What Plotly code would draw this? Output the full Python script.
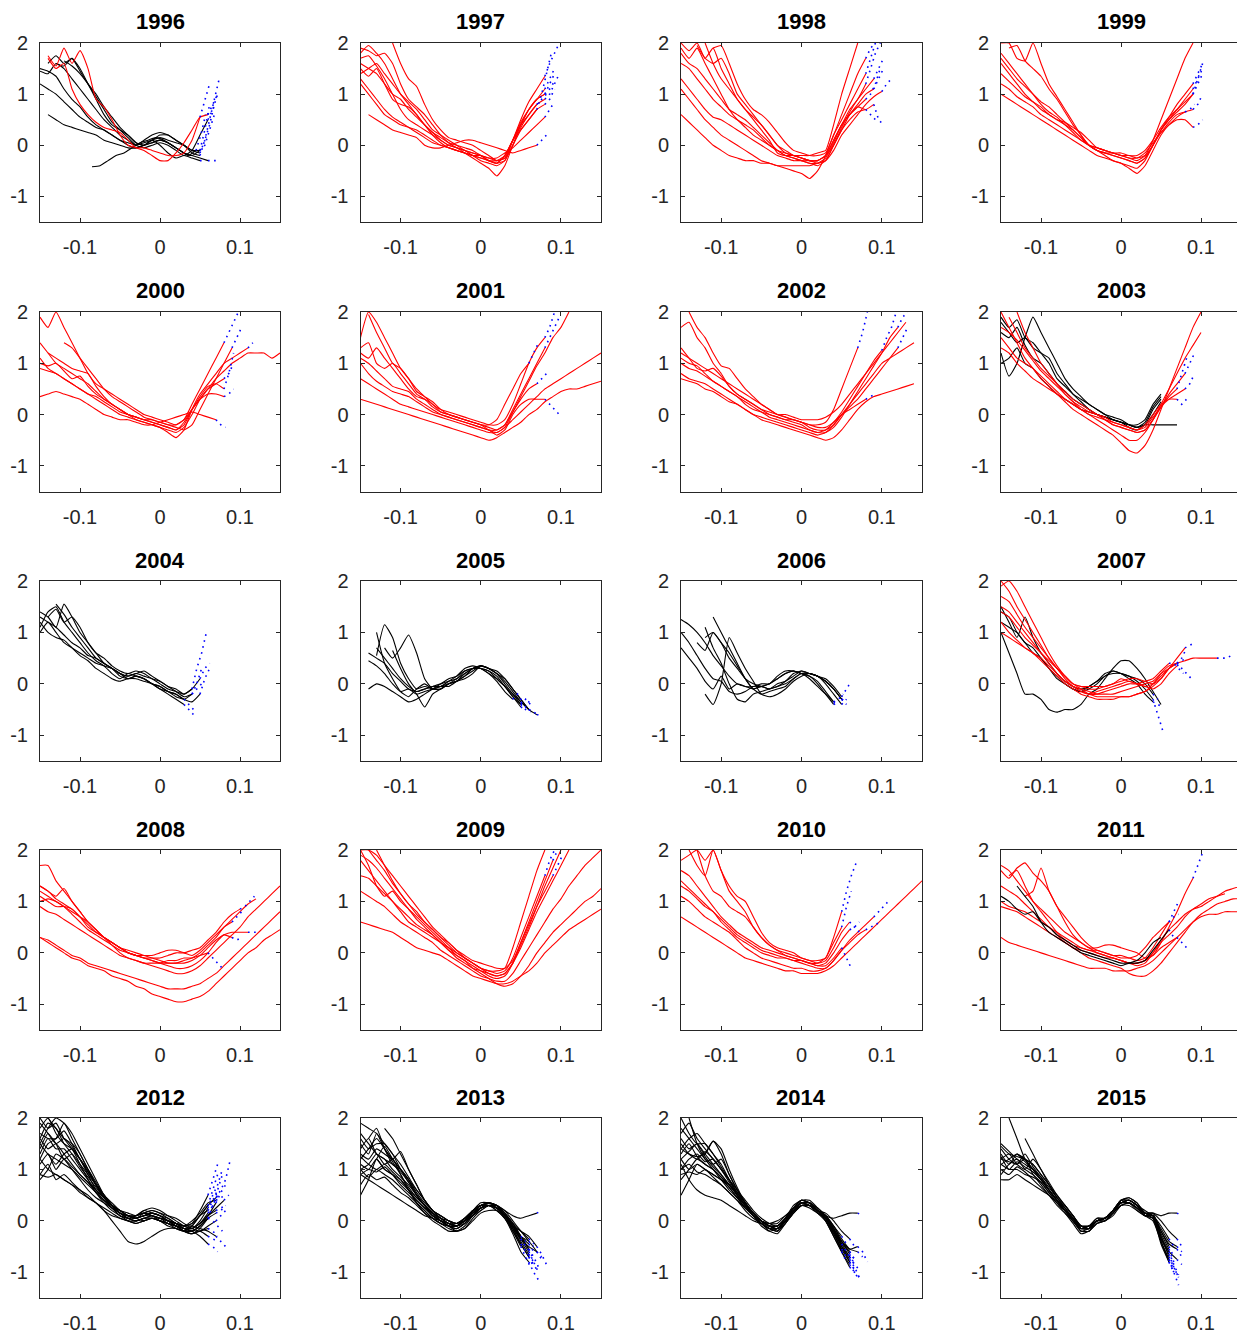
import plotly.graph_objects as go

# ---------------- data ----------------
YEARS = [1996, 1997, 1998, 1999, 2000, 2001, 2002, 2003, 2004, 2005,
         2006, 2007, 2008, 2009, 2010, 2011, 2012, 2013, 2014, 2015]
X_TICKS = [-0.1, 0, 0.1]
X_TICK_TEXT = ["-0.1", "0", "0.1"]
Y_TICKS = [-1, 0, 1, 2]
Y_TICK_TEXT = ["-1", "0", "1", "2"]
STEP = 0.01        # spacing of the solid-curve samples
EXT_STEP = 0.006   # spacing of the dotted extension samples

# each curve: (group, x start, solid y samples, dotted extension y samples)
C1996 = [
    ("k", -0.15, [1.5,1.45,1.35,1.1,0.9,0.75,0.55,0.4,0.3,0.2,0.1,0.05,0.0,0.05,0.1,0.15,0.1,0.05,0.0,-0.1,-0.15], [0.1,0.5,0.9,1.3]),
    ("k", -0.15, [1.45,1.4,1.6,1.5,1.3,1.1,0.9,0.7,0.5,0.35,0.2,0.1,0.0,0.1,0.2,0.25,0.2,0.1,0.0,-0.15,-0.2], [0.1,0.4,0.8]),
    ("k", -0.14, [1.6,1.75,1.6,1.7,1.45,1.2,0.95,0.7,0.45,0.3,0.15,0.0,-0.05,0.0,0.05,0.0,-0.1,-0.2,-0.1,0.2,0.5], [0.7,1.0]),
    ("k", -0.14, [0.6,0.5,0.4,0.35,0.3,0.25,0.2,0.1,0.05,0.0,-0.05,-0.05,0.0,0.05,0.1,0.05,-0.05,-0.15,-0.2,-0.25,-0.3], [-0.3,-0.3]),
    ("k", -0.085, [-0.42,-0.4,-0.3,-0.2,-0.15,-0.05,0.05,0.1,0.15,0.1,0.0,-0.1,-0.2,-0.1], [0.2,0.6]),
    ("k", -0.13, [1.6,1.55,1.7,1.5,1.2,0.9,0.6,0.4,0.3,0.2,0.05,0.0,0.1,0.2,0.2,0.1,0.0,-0.1,-0.1], [0.0,0.3,0.6]),
    ("k", -0.15, [1.2,1.1,1.0,0.85,0.7,0.55,0.45,0.35,0.3,0.2,0.1,0.0,-0.05,0.0,0.1,0.0,-0.15,-0.25,-0.2,-0.25,-0.3], [-0.3]),
    ("k", -0.12, [1.65,1.55,1.4,1.2,1.0,0.75,0.55,0.35,0.2,0.05,0.0,0.05,0.1,0.05,-0.05,-0.15,-0.2,-0.1], [0.3,0.8]),
    ("r", -0.14, [1.75,1.55,1.9,1.6,1.85,1.5,0.9,0.75,0.5,0.2,0.0,-0.05,-0.1,-0.2,-0.3,-0.3,-0.15,0.05,0.3,0.55,0.6], [0.8,1.0]),
    ("r", -0.14, [1.7,1.5,1.6,1.1,0.8,0.6,0.45,0.35,0.3,0.25,0.1,-0.05,-0.05,-0.1,-0.15,-0.2,-0.2,-0.15,0.1,0.55], [0.9,1.2]),
]
C1997 = [
    ("r", -0.15, [1.8,1.95,1.8,1.6,1.3,1.0,0.8,0.6,0.4,0.2,0.05,-0.05,-0.1,-0.15,-0.2,-0.25,-0.3,-0.35,-0.3,0.1,0.5,0.85,1.1,1.35], [1.6,1.8,2.0]),
    ("r", -0.15, [1.4,1.5,1.6,1.4,1.2,1.0,0.85,0.7,0.5,0.3,0.2,0.1,0.0,-0.1,-0.2,-0.3,-0.35,-0.4,-0.3,0.0,0.35,0.6,0.8,0.9], [1.0,1.2,1.4]),
    ("r", -0.15, [1.2,1.0,0.8,0.6,0.5,0.4,0.35,0.3,0.2,0.1,0.0,-0.05,-0.1,-0.15,-0.2,-0.25,-0.3,-0.35,-0.2,0.1,0.3,0.5,0.7,0.8], [0.9,1.1]),
    ("r", -0.14, [0.6,0.5,0.4,0.3,0.25,0.2,0.15,0.0,-0.05,-0.05,0.0,0.05,0.1,0.1,0.05,0.0,-0.05,-0.1,-0.15,-0.1,-0.05,0.0], [0.1,0.2]),
    ("r", -0.11, [2.0,1.6,1.3,1.15,0.8,0.5,0.3,0.15,0.1,0.05,0.0,-0.1,-0.2,-0.3,-0.25,0.1,0.4,0.7,0.9,1.1], [1.3,1.5]),
    ("r", -0.15, [1.7,1.75,1.55,1.3,1.0,0.7,0.5,0.4,0.3,0.2,0.1,0.0,-0.05,-0.15,-0.25,-0.35,-0.45,-0.6,-0.4,0.0,0.4,0.7,0.9,1.0], [1.2,1.4]),
    ("r", -0.15, [1.6,1.5,1.4,1.2,1.0,0.9,0.7,0.55,0.4,0.25,0.1,0.0,-0.05,-0.1,-0.15,-0.2,-0.25,-0.3,-0.25,0.0,0.3,0.5,0.7], [1.0,1.4,1.8]),
    ("r", -0.15, [1.9,1.85,1.75,1.8,1.6,1.2,0.9,0.75,0.6,0.4,0.2,0.05,-0.05,-0.1,-0.15,-0.2,-0.3,-0.35,-0.2,0.1,0.45,0.7,0.9,1.0], [1.1,1.25]),
    ("r", -0.15, [1.3,1.1,0.9,0.7,0.55,0.45,0.35,0.25,0.15,0.05,0.0,-0.05,-0.1,-0.15,-0.2,-0.2,-0.25,-0.25,-0.15,-0.05,0.1,0.25,0.4,0.55], [0.7,0.85]),
    ("r", -0.15, [1.5,1.35,1.5,1.2,0.9,0.8,0.75,0.6,0.4,0.25,0.15,0.05,0.0,-0.05,-0.1,-0.2,-0.3,-0.3,-0.2,0.1,0.4,0.6,0.8], [0.9,1.0]),
]
C1998 = [
    ("r", -0.15, [2.0,1.85,2.0,1.7,1.9,1.5,1.2,0.9,0.7,0.5,0.3,0.1,-0.15,-0.2,-0.2,-0.2,-0.2,-0.15,-0.1,0.4,1.0,1.5,2.0], []),
    ("r", -0.15, [1.1,0.9,0.7,0.5,0.35,0.2,0.1,0.0,-0.1,-0.2,-0.3,-0.35,-0.4,-0.4,-0.4,-0.4,-0.4,-0.35,-0.3,-0.1,0.2,0.4,0.6,0.8,0.95,1.05], [1.2,1.3]),
    ("r", -0.15, [0.6,0.45,0.3,0.15,0.0,-0.1,-0.2,-0.25,-0.3,-0.3,-0.35,-0.35,-0.4,-0.45,-0.5,-0.55,-0.65,-0.5,-0.2,0.2,0.5,0.8,1.1,1.4], [1.7,2.0]),
    ("r", -0.15, [1.9,1.7,1.9,1.6,1.3,1.0,0.7,0.5,0.35,0.2,0.1,0.0,-0.1,-0.2,-0.25,-0.3,-0.3,-0.3,-0.2,0.1,0.4,0.7,0.9,1.2], [1.5,1.8,2.0]),
    ("r", -0.15, [1.6,1.5,1.3,1.1,0.9,0.75,0.6,0.5,0.4,0.3,0.15,0.0,-0.1,-0.15,-0.2,-0.25,-0.3,-0.3,-0.2,0.0,0.3,0.5,0.65,0.7], [0.6,0.5]),
    ("r", -0.13, [1.95,1.7,1.6,1.7,1.4,1.0,0.8,0.6,0.4,0.2,0.0,-0.15,-0.2,-0.25,-0.3,-0.35,-0.3,0.0,0.3,0.6,0.8,1.0,1.1], [1.3,1.5]),
    ("r", -0.12, [2.0,1.6,1.3,1.1,0.9,0.7,0.55,0.4,0.2,0.0,-0.1,-0.2,-0.25,-0.3,-0.3,-0.2,0.1,0.4,0.6,0.75,0.7,0.8], [0.5,0.4]),
    ("r", -0.15, [1.3,1.1,0.9,0.7,0.55,0.5,0.4,0.3,0.2,0.1,0.0,-0.1,-0.2,-0.25,-0.3,-0.3,-0.35,-0.35,-0.25,0.05,0.4,0.6,0.75,0.9], [1.0,1.2,1.5]),
    ("r", -0.15, [1.8,1.6,1.5,1.3,1.1,0.9,0.7,0.6,0.5,0.35,0.2,0.05,-0.1,-0.2,-0.25,-0.3,-0.35,-0.4,-0.3,0.0,0.35,0.65,0.9,1.1,1.3], [1.5,1.7]),
    ("r", -0.11, [1.9,1.95,1.6,1.2,0.9,0.7,0.6,0.45,0.25,0.05,-0.1,-0.15,-0.2,-0.2,-0.15,0.2,0.6,1.0,1.4,1.7], [1.9,2.0]),
]
C1999 = [
    ("r", -0.15, [2.0,2.0,1.7,1.65,2.0,1.6,1.2,0.95,0.7,0.45,0.2,0.0,-0.1,-0.15,-0.15,-0.2,-0.25,-0.3,-0.2,0.1,0.5,0.9,1.3,1.7,2.0], []),
    ("r", -0.15, [1.7,1.5,1.3,1.15,1.0,0.85,0.75,0.6,0.45,0.3,0.15,0.0,-0.1,-0.15,-0.2,-0.25,-0.3,-0.35,-0.25,0.0,0.3,0.55,0.8,1.0,1.2], [1.4,1.6]),
    ("r", -0.15, [1.0,0.9,0.8,0.7,0.6,0.5,0.4,0.3,0.2,0.1,0.0,-0.1,-0.2,-0.25,-0.3,-0.35,-0.45,-0.55,-0.4,-0.1,0.2,0.4,0.5,0.5,0.35], [0.4,0.5]),
    ("r", -0.15, [1.4,1.25,1.1,0.95,0.85,0.75,0.6,0.5,0.4,0.3,0.15,0.0,-0.1,-0.15,-0.2,-0.25,-0.3,-0.35,-0.25,0.0,0.25,0.4,0.55,0.65,0.7], [0.8,1.0]),
    ("r", -0.15, [1.6,1.4,1.2,1.0,0.85,0.7,0.6,0.5,0.45,0.35,0.25,0.1,-0.05,-0.1,-0.15,-0.2,-0.25,-0.25,-0.2,0.0,0.3,0.5,0.65,0.8,1.0], [1.2,1.4]),
    ("r", -0.15, [1.8,1.6,1.4,1.2,1.0,0.8,0.65,0.55,0.4,0.25,0.1,0.0,-0.05,-0.1,-0.15,-0.15,-0.2,-0.2,-0.1,0.1,0.35,0.55,0.7,0.85,1.0], [1.3,1.6]),
    ("r", -0.14, [1.9,1.95,1.65,1.5,1.35,1.1,0.9,0.65,0.4,0.2,0.0,-0.1,-0.2,-0.3,-0.35,-0.4,-0.45,-0.3,0.0,0.3,0.5,0.7,0.9,1.1], [1.3,1.5]),
    ("r", -0.15, [1.2,1.1,0.95,0.85,0.75,0.6,0.5,0.4,0.3,0.2,0.1,0.0,-0.05,-0.1,-0.15,-0.2,-0.2,-0.25,-0.15,0.05,0.25,0.45,0.6,0.65], [0.7,0.8]),
]
C2000 = [
    ("r", -0.15, [1.9,1.7,2.0,1.7,1.4,1.1,0.8,0.6,0.5,0.4,0.3,0.2,0.1,0.0,-0.05,-0.1,-0.15,-0.2,-0.1,0.2,0.5,0.8,1.1,1.4], [1.6,1.8,2.0]),
    ("r", -0.15, [1.4,1.2,1.0,0.9,0.8,0.7,0.6,0.45,0.3,0.2,0.1,0.0,-0.05,-0.1,-0.15,-0.2,-0.25,-0.3,-0.2,0.1,0.3,0.5,0.7,0.85,1.0,1.1,1.2,1.2,1.2,1.1,1.2], []),
    ("r", -0.15, [0.35,0.4,0.45,0.4,0.35,0.3,0.2,0.1,0.0,-0.05,-0.1,-0.1,-0.15,-0.2,-0.2,-0.15,-0.1,-0.05,0.0,0.05,0.0,-0.05,-0.1], [-0.2,-0.25]),
    ("r", -0.15, [1.1,0.9,0.8,0.7,0.6,0.5,0.4,0.3,0.2,0.1,0.0,-0.05,-0.1,-0.15,-0.2,-0.25,-0.35,-0.45,-0.3,0.1,0.4,0.6,0.8,1.0,1.1,1.2,1.3], [1.4]),
    ("r", -0.14, [1.2,1.1,1.0,0.9,0.85,0.8,0.55,0.35,0.2,0.1,0.0,-0.1,-0.15,-0.2,-0.25,-0.3,-0.35,-0.25,0.0,0.3,0.5,0.6,0.7], [0.8,1.0]),
    ("r", -0.12, [1.4,1.3,1.1,0.9,0.7,0.5,0.35,0.25,0.15,0.05,-0.05,-0.1,-0.15,-0.2,-0.25,-0.3,-0.2,0.1,0.4,0.7,1.0,1.3], [1.5,1.7]),
    ("r", -0.15, [0.9,0.85,0.8,0.7,0.6,0.5,0.4,0.35,0.25,0.15,0.05,0.0,-0.05,-0.1,-0.1,-0.15,-0.2,-0.2,-0.1,0.1,0.3,0.4,0.4,0.35], [0.4,0.5]),
    ("r", -0.15, [1.0,0.95,1.0,0.85,0.7,0.75,0.55,0.4,0.3,0.2,0.1,0.0,-0.05,-0.1,-0.15,-0.2,-0.25,-0.3,-0.15,0.1,0.35,0.55,0.6,0.5], [0.8,1.2]),
]
C2001 = [
    ("r", -0.15, [1.5,2.0,1.8,1.5,1.2,0.9,0.7,0.5,0.35,0.2,0.1,0.05,0.0,-0.05,-0.1,-0.15,-0.2,-0.2,-0.1,0.2,0.6,1.0,1.3,1.5], [1.7,2.0]),
    ("r", -0.15, [1.3,1.4,1.0,0.9,1.0,0.8,0.6,0.4,0.3,0.15,0.05,0.0,-0.05,-0.1,-0.15,-0.2,-0.3,-0.35,-0.25,0.05,0.35,0.65,0.95,1.2,1.5,1.7,2.0], []),
    ("r", -0.15, [0.3,0.25,0.2,0.15,0.1,0.05,0.0,-0.05,-0.1,-0.15,-0.2,-0.25,-0.3,-0.35,-0.4,-0.45,-0.5,-0.45,-0.35,-0.25,-0.15,0.0,0.1,0.25,0.35,0.45,0.5,0.5,0.55,0.6,0.65], []),
    ("r", -0.15, [0.7,0.6,0.5,0.4,0.3,0.2,0.15,0.1,0.05,0.0,-0.05,-0.1,-0.15,-0.2,-0.25,-0.3,-0.35,-0.35,-0.25,-0.1,0.05,0.2,0.35,0.5,0.6,0.7,0.8,0.9,1.0,1.1,1.2], []),
    ("r", -0.15, [1.2,1.1,1.3,1.1,0.9,0.7,0.5,0.35,0.3,0.2,0.05,0.0,-0.05,-0.1,-0.15,-0.2,-0.25,-0.3,-0.2,0.1,0.4,0.7,1.0,1.3], [1.5,1.7,1.9]),
    ("r", -0.15, [1.1,1.0,0.85,0.7,0.55,0.5,0.45,0.3,0.2,0.1,0.0,-0.05,-0.1,-0.15,-0.2,-0.25,-0.3,-0.4,-0.3,0.0,0.2,0.3,0.3,0.3], [0.2,0.1,0.0]),
    ("r", -0.14, [1.95,1.6,1.3,1.0,0.9,0.7,0.45,0.35,0.25,0.1,0.0,-0.05,-0.1,-0.15,-0.2,-0.2,-0.1,0.2,0.5,0.8,1.0], [1.2,1.4]),
    ("r", -0.15, [1.0,0.8,0.65,0.55,0.45,0.4,0.35,0.25,0.15,0.05,0.0,-0.05,-0.1,-0.15,-0.2,-0.25,-0.3,-0.3,-0.2,0.05,0.3,0.5,0.6], [0.7,0.8]),
]
C2002 = [
    ("r", -0.15, [1.7,1.8,1.5,1.3,1.0,0.8,0.55,0.4,0.3,0.2,0.1,0.0,-0.05,-0.1,-0.1,-0.15,-0.2,-0.2,-0.15,0.1,0.5,0.9,1.3], [1.6,2.0]),
    ("r", -0.14, [2.0,1.7,1.5,1.2,0.95,0.9,0.7,0.5,0.35,0.2,0.1,0.0,0.0,-0.05,-0.1,-0.1,-0.1,-0.05,0.05,0.2,0.4,0.6,0.8,1.0,1.2,1.4,1.6,1.8], []),
    ("r", -0.15, [0.8,0.7,0.65,0.6,0.5,0.4,0.3,0.2,0.1,0.0,-0.1,-0.15,-0.2,-0.25,-0.3,-0.35,-0.4,-0.45,-0.5,-0.45,-0.3,-0.1,0.1,0.25,0.35,0.4,0.45,0.5,0.55,0.6], []),
    ("r", -0.15, [1.2,1.1,1.0,0.9,0.8,0.7,0.6,0.5,0.4,0.3,0.2,0.1,0.0,-0.05,-0.1,-0.15,-0.25,-0.3,-0.3,-0.2,0.0,0.2,0.4,0.6,0.8,1.0,1.1,1.2,1.3,1.4], []),
    ("r", -0.15, [1.0,0.9,0.85,0.75,0.65,0.55,0.45,0.35,0.2,0.1,0.05,0.0,-0.05,-0.1,-0.15,-0.2,-0.3,-0.35,-0.35,-0.25,-0.05,0.2,0.45,0.7,0.95,1.2,1.5,1.7], [1.9,2.0]),
    ("r", -0.15, [0.7,0.65,0.6,0.5,0.45,0.35,0.25,0.2,0.1,0.0,-0.05,-0.1,-0.15,-0.2,-0.25,-0.3,-0.35,-0.4,-0.35,-0.2,0.0,0.1,0.2,0.3], [0.35,0.4]),
    ("r", -0.15, [1.3,1.1,0.9,0.85,0.9,0.75,0.55,0.4,0.3,0.2,0.1,0.05,0.0,-0.05,-0.1,-0.15,-0.2,-0.25,-0.25,-0.15,0.05,0.3,0.55,0.8,1.05,1.25], [1.5,1.7,2.0]),
    ("r", -0.15, [1.1,1.0,0.95,0.8,0.65,0.55,0.45,0.35,0.25,0.15,0.05,-0.05,-0.1,-0.15,-0.2,-0.25,-0.3,-0.35,-0.3,-0.15,0.0,0.15,0.3,0.5,0.7,0.9,1.1,1.3], [1.5,1.7]),
]
C2003 = [
    ("k", -0.15, [1.9,1.7,1.85,1.5,1.4,1.2,1.0,0.7,0.55,0.4,0.3,0.2,0.1,0.0,-0.1,-0.15,-0.2,-0.2,-0.1,0.2,0.4], []),
    ("k", -0.15, [1.2,0.75,1.0,1.5,1.9,1.6,1.3,1.0,0.7,0.5,0.35,0.2,0.1,0.0,-0.05,-0.1,-0.2,-0.25,-0.15,0.15,0.35], []),
    ("k", -0.15, [1.8,1.6,1.4,1.5,1.3,1.2,1.1,0.8,0.6,0.4,0.25,0.1,0.0,-0.05,-0.1,-0.15,-0.2,-0.25,-0.2,-0.2,-0.2,-0.2,-0.2], []),
    ("k", -0.15, [1.6,1.5,1.7,1.35,1.1,1.0,0.8,0.6,0.45,0.3,0.2,0.1,0.0,-0.05,-0.1,-0.15,-0.25,-0.3,-0.2,0.1,0.3], []),
    ("k", -0.15, [1.0,1.1,1.3,1.0,0.9,0.7,0.55,0.4,0.3,0.2,0.1,0.05,0.0,-0.05,-0.1,-0.15,-0.2,-0.25,-0.2,0.0,0.25], []),
    ("r", -0.15, [2.0,1.7,1.4,1.1,0.9,0.7,0.55,0.4,0.25,0.1,0.0,-0.1,-0.2,-0.3,-0.4,-0.55,-0.7,-0.75,-0.6,-0.3,0.1,0.5,0.9,1.3,1.7,2.0], []),
    ("r", -0.13, [2.0,1.6,1.3,1.0,0.8,0.6,0.4,0.25,0.1,0.0,-0.1,-0.2,-0.3,-0.4,-0.5,-0.5,-0.35,-0.1,0.2,0.5,0.8,1.1,1.35,1.6], []),
    ("r", -0.15, [1.7,1.6,1.45,1.25,1.05,0.85,0.7,0.55,0.4,0.25,0.15,0.05,0.0,-0.1,-0.2,-0.25,-0.3,-0.35,-0.3,-0.1,0.15,0.4,0.6,0.8], [1.0,1.2]),
    ("r", -0.15, [1.5,1.3,1.1,1.0,0.9,0.75,0.6,0.45,0.3,0.2,0.1,0.05,0.0,-0.05,-0.15,-0.2,-0.25,-0.3,-0.25,-0.05,0.15,0.3,0.4,0.5], [0.6,0.8]),
    ("r", -0.14, [1.9,1.6,1.3,1.1,0.9,0.75,0.6,0.45,0.3,0.2,0.1,0.0,-0.1,-0.2,-0.25,-0.3,-0.35,-0.3,-0.1,0.15,0.35,0.5], [0.8,1.1]),
    ("r", -0.15, [1.3,1.2,1.0,0.85,0.7,0.6,0.5,0.4,0.3,0.2,0.1,0.0,-0.05,-0.1,-0.15,-0.2,-0.25,-0.3,-0.2,0.0,0.2,0.3,0.3], [0.2,0.3]),
]
C2004 = [
    ("k", -0.15, [1.1,1.4,1.5,1.2,1.0,0.8,0.6,0.45,0.35,0.2,0.1,0.2,0.15,0.1,0.0,-0.1,-0.2,-0.3,-0.4], [-0.5,-0.6]),
    ("k", -0.15, [1.4,1.3,1.1,1.55,1.3,1.0,0.8,0.6,0.4,0.3,0.2,0.15,0.2,0.15,0.1,0.0,-0.1,-0.15,-0.2,-0.1], [0.3,0.6,1.0]),
    ("k", -0.15, [1.0,1.2,1.0,0.8,0.7,0.6,0.5,0.4,0.35,0.3,0.2,0.1,0.15,0.1,0.0,-0.05,-0.15,-0.2,-0.3,-0.35,-0.2], [0.1,0.3]),
    ("k", -0.14, [1.3,1.45,1.2,1.3,1.1,0.8,0.6,0.5,0.35,0.25,0.2,0.25,0.2,0.1,0.05,-0.05,-0.15,-0.25,-0.2], [0.0,0.3]),
    ("k", -0.15, [1.2,1.0,0.9,0.85,0.7,0.55,0.45,0.3,0.2,0.1,0.05,0.1,0.1,0.05,0.0,-0.1,-0.15,-0.25,-0.3], [-0.4,-0.5]),
    ("k", -0.13, [1.55,1.35,1.1,0.9,0.7,0.5,0.4,0.3,0.2,0.15,0.2,0.25,0.15,0.05,-0.05,-0.1,-0.2,-0.1,0.1], [0.3,0.4]),
    ("k", -0.15, [1.3,1.2,1.1,0.95,0.8,0.7,0.55,0.5,0.4,0.3,0.15,0.1,0.15,0.1,0.0,-0.05,-0.15,-0.2,-0.3,-0.2], [-0.1,0.0]),
]
C2005 = [
    ("k", -0.14, [0.45,0.35,0.2,0.0,-0.15,-0.1,-0.2,-0.15,-0.1,-0.05,0.0,0.1,0.2,0.3,0.35,0.3,0.2,0.05,-0.15,-0.35,-0.5], [-0.55]),
    ("k", -0.13, [1.0,0.4,0.1,-0.15,-0.25,-0.1,0.0,-0.1,-0.05,-0.05,0.05,0.15,0.3,0.35,0.3,0.2,0.0,-0.2,-0.4], [-0.5,-0.55]),
    ("k", -0.13, [0.55,1.15,0.9,0.4,0.1,-0.1,-0.05,-0.1,-0.1,0.0,0.05,0.2,0.3,0.3,0.25,0.15,-0.05,-0.25,-0.4], [-0.3,-0.4]),
    ("k", -0.12, [0.7,0.5,0.7,0.95,0.6,0.1,-0.1,-0.1,0.0,0.05,0.1,0.2,0.35,0.3,0.2,0.1,-0.1,-0.3,-0.5,-0.6], [-0.6]),
    ("k", -0.14, [-0.1,0.0,-0.05,-0.15,-0.25,-0.35,-0.3,-0.2,-0.1,0.0,0.1,0.15,0.25,0.3,0.3,0.25,0.1,-0.05,-0.25,-0.45], [-0.5]),
    ("k", -0.13, [0.7,0.5,0.3,0.1,-0.05,-0.15,-0.1,-0.05,0.0,0.05,0.1,0.25,0.3,0.3,0.2,0.1,-0.05,-0.2,-0.35], [-0.45,-0.3]),
    ("k", -0.11, [0.65,0.3,0.0,-0.2,-0.45,-0.2,-0.1,0.0,0.05,0.15,0.25,0.35,0.3,0.25,0.1,-0.1,-0.3,-0.5], [-0.55,-0.6]),
    ("k", -0.14, [0.6,0.5,0.4,0.2,0.05,-0.1,-0.15,-0.1,-0.05,-0.05,0.05,0.15,0.3,0.35,0.3,0.2,0.05,-0.15,-0.3], [-0.2,-0.35]),
]
C2006 = [
    ("k", -0.15, [1.25,1.15,1.0,0.8,0.55,0.35,0.15,0.0,-0.05,-0.05,0.0,0.0,0.1,0.2,0.25,0.2,0.15,0.05,-0.15,-0.35], [-0.3,-0.2]),
    ("k", -0.15, [1.0,0.8,0.55,0.3,0.1,0.05,-0.15,-0.2,-0.15,-0.05,-0.05,0.0,0.1,0.2,0.25,0.2,0.15,0.0,-0.2,-0.4], [-0.35]),
    ("k", -0.15, [0.7,0.5,0.3,0.05,-0.1,0.15,-0.1,0.0,-0.05,-0.1,-0.05,0.0,0.15,0.25,0.25,0.2,0.1,-0.05,-0.2,-0.35], [-0.4]),
    ("k", -0.12, [1.1,0.7,0.4,0.0,-0.3,-0.35,-0.2,-0.15,-0.1,-0.05,0.05,0.2,0.25,0.2,0.15,0.0,-0.2,-0.4], [-0.3]),
    ("k", -0.11, [1.3,1.0,0.7,0.4,0.1,-0.1,-0.2,-0.15,-0.1,-0.05,0.1,0.2,0.2,0.15,0.1,-0.05,-0.25], [-0.1,0.05]),
    ("k", -0.13, [0.8,0.65,1.0,0.8,0.5,0.3,0.1,0.0,-0.05,-0.1,0.0,0.05,0.15,0.25,0.2,0.15,0.05,-0.1,-0.3], [-0.35]),
    ("k", -0.12, [-0.2,-0.4,0.0,0.9,0.6,0.3,0.05,-0.2,-0.25,-0.2,-0.1,0.05,0.15,0.2,0.15,0.05,-0.1,-0.3], [-0.4]),
    ("k", -0.12, [0.9,1.0,0.8,0.6,0.35,0.1,-0.1,-0.05,-0.1,-0.05,0.0,0.1,0.2,0.2,0.15,0.05,-0.1,-0.3], [-0.35]),
]
C2007 = [
    ("k", -0.15, [1.0,0.6,0.2,-0.2,-0.2,-0.3,-0.5,-0.55,-0.5,-0.5,-0.4,-0.2,-0.1,0.1,0.3,0.45,0.45,0.3,0.1,-0.15,-0.4], []),
    ("k", -0.15, [1.4,1.3,1.0,0.8,0.6,0.5,0.3,0.15,0.0,-0.1,-0.15,-0.1,0.0,0.15,0.2,0.2,0.15,0.05,-0.1,-0.3], [-0.6,-0.9]),
    ("k", -0.15, [1.5,1.2,0.9,1.3,0.9,0.6,0.4,0.2,0.05,-0.05,-0.1,-0.05,0.05,0.15,0.25,0.2,0.1,0.0,-0.2,-0.35], [-0.4,-0.45]),
    ("k", -0.15, [1.2,1.1,1.0,0.8,0.7,0.5,0.3,0.1,0.0,-0.1,-0.15,-0.05,0.05,0.2,0.25,0.2,0.15,0.1,0.0,-0.2], [-0.3]),
    ("r", -0.15, [1.9,2.0,1.8,1.5,1.2,0.9,0.6,0.35,0.15,0.0,-0.05,-0.05,-0.05,-0.05,0.0,0.05,0.1,0.1,0.05,0.0,0.1,0.3,0.5,0.7], [0.75,0.8]),
    ("r", -0.15, [1.5,1.4,1.2,1.0,0.8,0.6,0.4,0.2,0.05,-0.05,-0.1,-0.15,-0.2,-0.2,-0.2,-0.15,-0.1,-0.05,0.0,0.05,0.2,0.3,0.4,0.45,0.5,0.5,0.5,0.5], [0.5,0.5,0.55]),
    ("r", -0.15, [1.2,1.0,0.85,0.7,0.6,0.5,0.35,0.2,0.05,-0.05,-0.15,-0.2,-0.25,-0.25,-0.25,-0.25,-0.25,-0.2,-0.15,0.0,0.2,0.35,0.4], [0.45,0.5]),
    ("r", -0.15, [2.0,1.8,1.5,1.25,1.0,0.75,0.5,0.3,0.1,-0.05,-0.15,-0.2,-0.15,-0.1,-0.05,0.0,0.05,0.0,-0.05,0.0,0.15,0.3,0.4], [0.5,0.7]),
    ("r", -0.15, [1.4,1.3,1.1,0.9,0.75,0.6,0.45,0.3,0.15,0.0,-0.1,-0.2,-0.2,-0.15,-0.1,-0.05,0.0,0.0,0.05,0.1,0.25,0.4], [0.4,0.3,0.2]),
    ("r", -0.15, [1.0,0.9,0.8,0.7,0.6,0.45,0.3,0.15,0.0,-0.1,-0.2,-0.25,-0.3,-0.3,-0.3,-0.25,-0.25,-0.2,-0.15,-0.05,0.1,0.3,0.4], [0.3,0.2,0.1]),
    ("r", -0.15, [1.7,1.6,1.35,1.1,0.9,0.7,0.5,0.3,0.15,0.0,-0.05,-0.1,-0.1,-0.05,0.0,0.1,0.05,0.0,-0.05,-0.1,0.0,0.2,0.35], [0.4]),
]
C2008 = [
    ("r", -0.15, [0.3,0.2,0.1,0.0,-0.1,-0.15,-0.25,-0.3,-0.35,-0.45,-0.5,-0.55,-0.65,-0.7,-0.8,-0.85,-0.9,-0.95,-0.95,-0.9,-0.85,-0.75,-0.6,-0.45,-0.3,-0.15,0.0,0.1,0.25,0.35,0.45], []),
    ("r", -0.15, [0.3,0.25,0.15,0.05,-0.05,-0.1,-0.2,-0.25,-0.3,-0.35,-0.4,-0.45,-0.5,-0.55,-0.6,-0.65,-0.7,-0.7,-0.7,-0.65,-0.6,-0.5,-0.4,-0.25,-0.1,0.05,0.2,0.35,0.5,0.65,0.8], []),
    ("r", -0.15, [1.2,1.1,1.0,0.9,0.8,0.7,0.6,0.45,0.3,0.15,0.0,-0.1,-0.15,-0.2,-0.25,-0.3,-0.35,-0.4,-0.4,-0.35,-0.25,-0.1,0.05,0.2,0.35,0.5,0.7,0.85,1.0,1.15,1.3], []),
    ("r", -0.15, [1.7,1.7,1.4,1.2,1.0,0.8,0.6,0.45,0.3,0.2,0.1,0.0,-0.05,-0.1,-0.1,-0.1,-0.05,0.0,0.0,0.05,0.1,0.25,0.4,0.6,0.75,0.85], [0.9,1.0,1.1]),
    ("r", -0.15, [1.3,1.2,1.1,1.25,1.0,0.8,0.6,0.45,0.3,0.2,0.1,0.0,-0.05,-0.1,-0.15,-0.2,-0.2,-0.2,-0.15,-0.1,0.0,0.15,0.3,0.5,0.6], [0.7,0.8]),
    ("r", -0.15, [1.1,1.0,0.9,0.9,0.85,0.7,0.5,0.4,0.3,0.2,0.1,0.05,0.0,-0.05,-0.1,-0.15,-0.2,-0.2,-0.2,-0.15,-0.05,0.1,0.25,0.35,0.4,0.4,0.4], [0.4,0.4]),
    ("r", -0.15, [1.0,1.05,1.0,0.9,0.75,0.6,0.45,0.35,0.25,0.15,0.05,0.0,-0.05,-0.1,-0.15,-0.2,-0.25,-0.3,-0.3,-0.25,-0.15,0.0,0.2,0.35,0.3], [0.25,0.3]),
    ("r", -0.15, [0.9,0.8,0.75,0.65,0.55,0.45,0.35,0.25,0.15,0.05,-0.05,-0.1,-0.15,-0.2,-0.2,-0.2,-0.15,-0.15,-0.1,-0.1,-0.05,0.0], [-0.1,-0.2,-0.3]),
    ("r", -0.15, [1.3,1.2,1.05,0.95,0.85,0.7,0.55,0.4,0.3,0.2,0.1,0.0,-0.05,-0.05,-0.05,0.0,0.05,0.05,0.0,-0.05,0.05,0.2,0.35,0.5,0.65,0.8,0.95,1.05], []),
]
C2009 = [
    ("r", -0.15, [2.0,2.0,1.9,1.7,1.5,1.3,1.1,0.9,0.7,0.5,0.35,0.2,0.05,-0.1,-0.2,-0.3,-0.35,-0.35,-0.3,0.1,0.6,1.1,1.6,2.0], []),
    ("r", -0.15, [1.9,1.8,1.65,1.45,1.25,1.05,0.85,0.65,0.5,0.35,0.2,0.05,-0.05,-0.15,-0.25,-0.35,-0.45,-0.5,-0.45,-0.2,0.2,0.6,1.0,1.4,1.8], [2.0]),
    ("r", -0.15, [0.6,0.55,0.5,0.45,0.4,0.3,0.2,0.1,0.05,0.0,-0.05,-0.15,-0.25,-0.35,-0.45,-0.5,-0.55,-0.6,-0.6,-0.55,-0.45,-0.35,-0.2,0.0,0.15,0.3,0.45,0.55,0.65,0.75,0.85], []),
    ("r", -0.15, [1.8,1.6,1.4,1.2,1.0,0.8,0.6,0.5,0.4,0.3,0.2,0.1,-0.05,-0.15,-0.3,-0.4,-0.5,-0.6,-0.65,-0.6,-0.45,-0.25,0.0,0.2,0.4,0.55,0.7,0.85,1.0,1.1,1.25], []),
    ("r", -0.15, [1.5,1.45,1.3,1.15,1.0,0.85,0.7,0.55,0.45,0.35,0.2,0.05,-0.1,-0.2,-0.3,-0.35,-0.4,-0.45,-0.4,-0.2,0.1,0.45,0.8,1.1,1.4,1.7,2.0], []),
    ("r", -0.15, [2.0,1.7,1.3,1.1,1.2,1.0,0.85,0.7,0.55,0.4,0.25,0.1,0.0,-0.1,-0.2,-0.3,-0.35,-0.4,-0.35,-0.1,0.3,0.7,1.1,1.5], [1.8,2.0]),
    ("r", -0.15, [1.2,1.1,1.0,0.9,0.75,0.6,0.5,0.4,0.3,0.2,0.05,-0.05,-0.15,-0.25,-0.35,-0.45,-0.5,-0.55,-0.55,-0.4,-0.15,0.1,0.35,0.6,0.85,1.05,1.3,1.5,1.7,1.85,2.0], []),
    ("r", -0.14, [2.0,1.8,1.6,1.35,1.15,0.95,0.75,0.6,0.45,0.3,0.15,0.0,-0.1,-0.2,-0.3,-0.4,-0.45,-0.4,-0.2,0.15,0.5,0.9,1.3,1.65,2.0], []),
    ("r", -0.13, [2.0,1.7,1.4,1.15,0.95,0.8,0.6,0.45,0.3,0.2,0.05,-0.05,-0.15,-0.2,-0.25,-0.3,-0.3,-0.15,0.2,0.55,0.9,1.2,1.5], [1.7,1.9]),
]
C2010 = [
    ("r", -0.15, [1.8,1.9,2.0,1.8,2.0,1.6,1.2,1.0,0.8,0.5,0.3,0.15,0.05,0.0,-0.05,-0.1,-0.15,-0.15,-0.1,0.3,0.8], [1.2,1.5,1.75]),
    ("r", -0.14, [2.0,1.7,1.5,2.0,1.6,1.3,1.1,1.0,0.7,0.4,0.2,0.1,0.05,0.0,-0.1,-0.15,-0.2,-0.1,0.2,0.5], [0.9,1.2]),
    ("r", -0.15, [0.7,0.6,0.5,0.4,0.3,0.2,0.1,0.0,-0.1,-0.15,-0.2,-0.25,-0.3,-0.35,-0.35,-0.4,-0.4,-0.4,-0.35,-0.25,-0.1,0.05,0.2,0.35,0.5,0.65,0.8,0.95,1.1,1.25,1.4], []),
    ("r", -0.15, [1.4,1.25,1.1,0.95,0.8,0.65,0.5,0.35,0.25,0.15,0.05,0.0,-0.05,-0.1,-0.15,-0.2,-0.25,-0.3,-0.3,-0.15,0.05,0.25,0.4,0.55,0.7], [0.8,0.9,1.0]),
    ("r", -0.15, [1.6,1.5,1.3,1.1,0.9,0.7,0.55,0.4,0.3,0.2,0.1,0.05,0.0,-0.05,-0.1,-0.15,-0.2,-0.25,-0.2,0.0,0.25,0.45], [0.5,0.6]),
    ("r", -0.15, [1.1,1.0,0.85,0.7,0.6,0.5,0.4,0.25,0.1,0.0,-0.1,-0.15,-0.2,-0.25,-0.3,-0.3,-0.35,-0.35,-0.3,-0.15,0.05,0.2,0.35,0.45], [0.5,0.55,0.6]),
    ("r", -0.15, [1.3,1.2,1.05,0.9,0.8,0.6,0.45,0.3,0.2,0.1,0.0,-0.05,-0.1,-0.1,-0.15,-0.15,-0.2,-0.25,-0.25,-0.1,0.1], [-0.1,-0.3]),
    ("r", -0.13, [2.0,1.5,1.2,1.1,0.9,0.8,0.7,0.5,0.3,0.15,0.05,-0.05,-0.1,-0.15,-0.2,-0.2,-0.15,0.1,0.4,0.6], [0.5,0.4]),
]
C2011 = [
    ("r", -0.15, [1.6,1.45,1.65,1.75,1.55,1.4,1.2,0.9,0.7,0.5,0.3,0.15,0.05,0.0,-0.05,-0.1,-0.1,-0.15,-0.1,0.1,0.35,0.6], [0.8,1.0]),
    ("r", -0.15, [0.3,0.2,0.15,0.1,0.05,0.0,-0.05,-0.1,-0.15,-0.2,-0.25,-0.3,-0.3,-0.3,-0.35,-0.35,-0.35,-0.3,-0.25,-0.15,0.0,0.15,0.3,0.45,0.6,0.7,0.75,0.75,0.8,0.8,0.8], []),
    ("r", -0.15, [1.0,0.9,0.85,0.8,0.7,0.6,0.5,0.35,0.2,0.1,0.0,-0.1,-0.15,-0.2,-0.25,-0.3,-0.4,-0.45,-0.45,-0.35,-0.2,0.0,0.2,0.4,0.6,0.75,0.85,0.95,1.0,1.05,1.05], []),
    ("r", -0.12, [1.1,1.2,1.65,1.2,0.9,0.6,0.35,0.2,0.1,0.1,0.15,0.15,0.1,0.05,0.0,-0.1,-0.05,0.2,0.5,0.8,1.15,1.45], [1.7,1.95]),
    ("r", -0.15, [1.3,1.2,1.1,0.95,0.8,0.65,0.5,0.4,0.3,0.2,0.1,0.05,0.0,-0.05,-0.1,-0.15,-0.2,-0.25,-0.2,0.0,0.25,0.45,0.6,0.75,0.85,0.9,1.0,1.1,1.2,1.25,1.3], []),
    ("r", -0.15, [0.9,0.85,0.8,0.7,0.6,0.5,0.4,0.3,0.2,0.1,0.05,0.0,-0.05,-0.1,-0.1,-0.15,-0.2,-0.2,-0.15,-0.05,0.1,0.2,0.3], [0.2,0.1]),
    ("r", -0.14, [1.5,1.6,1.3,1.0,0.8,0.6,0.4,0.25,0.15,0.1,0.05,0.05,0.0,-0.05,-0.05,-0.1,-0.05,0.1,0.3,0.45,0.6], [0.7,0.75]),
    ("r", -0.15, [1.7,1.6,1.4,1.2,1.0,0.85,0.7,0.55,0.4,0.3,0.2,0.1,0.0,-0.05,-0.1,-0.15,-0.2,-0.2,-0.15,0.0,0.2,0.35,0.5,0.7,0.85,0.95,1.05,1.1,1.15], []),
    ("k", -0.15, [1.1,1.0,0.85,0.75,0.8,0.6,0.5,0.35,0.25,0.15,0.05,0.0,-0.05,-0.1,-0.15,-0.2,-0.2,-0.2,-0.15,0.05,0.25,0.45], [0.3]),
    ("k", -0.13, [1.3,1.1,0.9,0.6,0.4,0.3,0.2,0.1,0.0,-0.05,-0.1,-0.15,-0.2,-0.25,-0.2,-0.15,0.0,0.2,0.3], []),
]
C2012 = [
    ("k", -0.15, [1.5,1.8,2.0,1.9,1.7,1.4,1.1,0.8,0.5,0.3,0.15,0.1,0.1,0.15,0.1,0.05,0.0,-0.05,-0.1,-0.05,0.2,0.5], [0.8,1.1]),
    ("k", -0.15, [1.2,1.5,1.6,1.9,1.6,1.3,1.0,0.7,0.5,0.3,0.2,0.1,0.05,0.1,0.1,0.0,-0.1,-0.15,-0.2,-0.1,0.1,0.3], [0.6,0.9]),
    ("k", -0.15, [0.8,1.0,1.3,1.2,1.0,0.8,0.6,0.45,0.35,0.25,0.15,0.05,0.0,0.05,0.05,0.0,-0.05,-0.1,-0.15,-0.2,-0.3,-0.45], [-0.5,-0.6]),
    ("k", -0.15, [1.6,1.4,1.5,1.3,1.1,0.9,0.75,0.55,0.4,0.25,0.1,0.05,0.1,0.2,0.15,0.1,0.0,-0.05,-0.1,0.0,0.15,0.35,0.4], [0.45,0.5]),
    ("k", -0.15, [1.2,1.0,0.9,0.8,0.7,0.6,0.45,0.35,0.2,0.0,-0.2,-0.4,-0.45,-0.4,-0.3,-0.2,-0.15,-0.15,-0.2,-0.25,-0.2,-0.3], [-0.35,-0.4]),
    ("k", -0.15, [1.4,1.7,1.5,1.2,1.3,1.1,0.9,0.7,0.5,0.3,0.15,0.1,0.05,0.15,0.2,0.15,0.05,-0.05,-0.15,-0.15,0.0,0.25], [0.5,0.7,1.0]),
    ("k", -0.15, [2.0,1.8,1.9,1.6,1.4,1.2,0.9,0.6,0.4,0.25,0.15,0.05,0.0,0.05,0.05,0.0,-0.05,-0.1,-0.15,-0.2,-0.1,0.05,0.15], [0.2,0.3]),
    ("k", -0.14, [1.3,1.1,1.3,1.4,1.2,0.95,0.7,0.5,0.35,0.2,0.1,0.05,0.1,0.15,0.1,0.0,-0.1,-0.2,-0.25,-0.15,0.05], [0.3,0.6,0.9]),
    ("k", -0.15, [1.7,1.6,1.6,1.75,1.5,1.2,0.95,0.7,0.45,0.3,0.2,0.1,0.05,0.0,0.05,0.0,-0.05,-0.1,-0.1,-0.1,-0.15,-0.2,-0.3], [-0.4,-0.5]),
    ("k", -0.15, [0.9,1.1,0.8,0.9,0.75,0.6,0.5,0.35,0.2,0.1,0.05,0.0,0.0,0.05,0.1,0.05,0.0,-0.05,-0.1,-0.15,-0.05,0.1,0.2], [0.25,0.3]),
    ("k", -0.15, [1.5,1.3,1.2,1.1,1.0,0.85,0.7,0.55,0.4,0.3,0.2,0.15,0.1,0.15,0.2,0.15,0.1,0.05,-0.05,-0.15,-0.2,-0.1,0.0], [0.1,0.2]),
    ("k", -0.15, [1.8,2.0,1.7,1.5,1.4,1.1,0.8,0.55,0.35,0.2,0.1,0.0,-0.05,0.0,0.05,0.05,0.0,-0.05,-0.1,-0.05,0.1,0.3,0.45], [0.6,0.8,1.2]),
    ("k", -0.15, [1.1,1.3,1.0,1.2,1.05,0.9,0.75,0.6,0.45,0.3,0.15,0.05,0.05,0.1,0.15,0.1,0.05,-0.05,-0.15,-0.2,-0.1,0.1,0.35], [0.55,0.7]),
    ("k", -0.15, [1.9,1.7,1.5,1.6,1.45,1.2,1.0,0.75,0.5,0.3,0.15,0.1,0.1,0.2,0.25,0.2,0.1,0.0,-0.1,-0.15,-0.05,0.15], [0.3,0.5]),
    ("k", -0.15, [0.9,0.85,0.9,0.8,0.7,0.55,0.45,0.35,0.25,0.15,0.05,0.0,-0.05,0.0,0.05,0.0,-0.05,-0.1,-0.2,-0.25,-0.2,-0.15], [-0.2,-0.3]),
    ("k", -0.14, [2.0,1.8,1.6,1.5,1.3,1.0,0.7,0.45,0.3,0.15,0.1,0.1,0.15,0.1,0.05,-0.05,-0.15,-0.2,-0.1,0.1,0.2], [0.4,0.6]),
    ("k", -0.15, [1.3,1.6,1.4,1.4,1.2,1.0,0.8,0.6,0.45,0.3,0.2,0.1,0.05,0.1,0.15,0.1,0.0,-0.1,-0.15,-0.15,-0.05,0.1,0.25,0.4], [0.5]),
    ("k", -0.15, [1.6,1.9,1.8,1.5,1.3,1.05,0.85,0.65,0.45,0.25,0.1,0.05,0.0,0.05,0.1,0.05,0.0,-0.1,-0.2,-0.2,-0.1,0.05], [0.0,-0.1,-0.2]),
]
C2013 = [
    ("k", -0.15, [1.9,1.8,1.7,1.5,1.3,1.0,0.75,0.5,0.3,0.15,0.0,-0.1,-0.15,-0.05,0.15,0.3,0.35,0.3,0.1,-0.2,-0.5], [-0.7,-0.9]),
    ("k", -0.15, [1.5,1.3,1.7,1.4,1.2,1.0,0.8,0.6,0.4,0.2,0.05,-0.05,-0.1,0.0,0.2,0.3,0.3,0.25,0.05,-0.25,-0.6,-0.8], [-1.0,-1.15]),
    ("k", -0.15, [1.1,1.0,1.2,1.0,0.9,0.8,0.6,0.4,0.25,0.1,0.0,-0.05,-0.05,0.05,0.2,0.3,0.3,0.2,0.05,-0.15,-0.35], [-0.5,-0.6]),
    ("k", -0.15, [0.7,0.9,0.8,0.85,0.7,0.55,0.45,0.3,0.15,0.05,0.0,-0.1,-0.15,-0.05,0.1,0.25,0.3,0.25,0.1,-0.1,-0.3,-0.45], [-0.6]),
    ("k", -0.15, [1.3,1.2,1.4,1.3,1.2,1.35,1.0,0.7,0.4,0.2,0.05,-0.05,-0.1,0.0,0.15,0.25,0.3,0.3,0.15,-0.05,-0.3,-0.55], [-0.75]),
    ("k", -0.15, [1.0,1.1,1.3,1.1,1.2,0.9,0.6,0.35,0.15,0.0,-0.1,-0.2,-0.2,-0.1,0.1,0.25,0.3,0.3,0.2,0.1,0.05,0.1,0.15], [0.2]),
    ("k", -0.15, [1.6,1.4,1.5,1.5,1.3,1.1,0.85,0.6,0.4,0.2,0.1,0.0,-0.05,0.05,0.2,0.35,0.35,0.3,0.15,-0.1,-0.35,-0.5,-0.6], [-0.75]),
    ("k", -0.14, [1.6,1.8,1.4,1.1,1.0,0.8,0.5,0.3,0.1,0.0,-0.1,-0.2,-0.15,0.05,0.2,0.3,0.25,0.1,-0.15,-0.45,-0.7], [-0.9]),
    ("k", -0.15, [0.5,0.8,1.2,1.0,0.9,0.75,0.6,0.45,0.3,0.15,0.05,0.0,-0.05,0.05,0.15,0.25,0.3,0.25,0.1,-0.1,-0.2,-0.3,-0.5], [-0.65,-0.85]),
    ("k", -0.15, [1.25,1.1,1.0,1.1,0.95,0.8,0.6,0.35,0.2,0.05,-0.05,-0.1,-0.1,0.0,0.15,0.25,0.3,0.25,0.1,-0.1,-0.35,-0.6], [-0.8,-1.0]),
    ("k", -0.12, [1.8,1.6,1.3,1.0,0.7,0.4,0.2,0.1,0.0,-0.05,0.0,0.1,0.2,0.3,0.3,0.2,0.0,-0.2,-0.4], [-0.5]),
    ("k", -0.15, [0.9,0.8,0.7,0.6,0.5,0.4,0.3,0.2,0.1,0.05,-0.05,-0.15,-0.2,-0.15,0.0,0.15,0.2,0.2,0.1,-0.1,-0.3], [-0.4]),
    ("k", -0.15, [1.4,1.6,1.3,1.2,1.1,0.95,0.75,0.5,0.3,0.15,0.0,-0.1,-0.1,0.0,0.2,0.3,0.35,0.3,0.1,-0.15,-0.45,-0.7], [-0.85,-1.0]),
    ("k", -0.15, [1.0,0.85,1.0,0.9,0.8,0.65,0.5,0.35,0.2,0.05,-0.05,-0.1,-0.1,0.05,0.2,0.3,0.3,0.2,0.05,-0.2,-0.45], [-0.6,-0.7]),
    ("k", -0.15, [1.7,1.5,1.3,1.2,1.0,0.85,0.7,0.5,0.3,0.1,0.0,-0.1,-0.15,-0.05,0.15,0.3,0.35,0.25,0.1,-0.1,-0.3,-0.4,-0.6], [-0.7]),
    ("k", -0.13, [1.2,1.45,1.2,1.0,0.8,0.55,0.35,0.2,0.1,0.0,-0.1,-0.05,0.1,0.25,0.35,0.3,0.15,-0.05,-0.3,-0.55], [-0.7,-0.9]),
    ("k", -0.15, [0.9,1.0,0.95,1.05,0.9,0.7,0.55,0.4,0.25,0.1,0.0,-0.05,-0.1,0.05,0.2,0.3,0.3,0.25,0.1,-0.05,-0.2,-0.35], [-0.45]),
    ("k", -0.15, [1.2,1.4,1.6,1.4,1.15,0.9,0.65,0.45,0.3,0.15,0.05,-0.05,-0.1,0.0,0.15,0.3,0.3,0.25,0.1,-0.1,-0.4,-0.65], [-0.8]),
]
C2014 = [
    ("k", -0.15, [2.0,1.7,1.5,1.5,1.3,1.1,0.8,0.5,0.3,0.1,-0.1,-0.2,-0.15,0.05,0.3,0.4,0.35,0.2,0.1,-0.2,-0.6,-0.9], [-1.0,-1.1]),
    ("k", -0.15, [1.6,1.4,1.5,1.3,1.1,0.9,0.7,0.5,0.3,0.15,0.0,-0.1,-0.1,0.05,0.25,0.35,0.35,0.2,0.1,-0.15,-0.5,-0.75], [-0.9,-1.1]),
    ("k", -0.15, [1.0,1.2,1.3,1.15,1.2,1.0,0.8,0.55,0.3,0.1,-0.05,-0.15,-0.2,0.0,0.2,0.35,0.3,0.15,0.05,-0.2,-0.45,-0.6], [-0.75]),
    ("k", -0.15, [0.5,0.8,1.1,1.0,0.9,0.8,0.7,0.5,0.3,0.15,0.0,-0.1,-0.15,0.0,0.2,0.3,0.3,0.2,0.0,-0.3,-0.6,-0.85], [-1.0,-1.15]),
    ("k", -0.15, [1.4,1.3,1.25,1.3,1.55,1.3,0.9,0.6,0.35,0.15,0.0,-0.1,-0.1,0.05,0.25,0.4,0.35,0.2,0.15,0.0,-0.2,-0.35], [-0.5]),
    ("k", -0.15, [1.2,1.0,1.1,1.0,0.9,0.8,0.65,0.45,0.25,0.1,0.0,-0.15,-0.2,-0.05,0.15,0.3,0.3,0.2,0.1,0.05,0.1,0.15,0.15], [0.1]),
    ("k", -0.15, [1.8,1.6,1.4,1.2,1.1,1.2,0.9,0.6,0.4,0.2,0.05,-0.05,-0.1,0.05,0.2,0.35,0.35,0.2,0.05,-0.25,-0.55,-0.8], [-0.95]),
    ("k", -0.14, [2.0,1.5,1.2,1.0,0.8,0.6,0.45,0.3,0.1,-0.05,-0.2,-0.25,-0.05,0.2,0.35,0.3,0.2,0.05,-0.2,-0.4,-0.55,-0.5], [-0.6,-0.8]),
    ("k", -0.15, [0.9,0.95,0.9,1.0,0.85,0.7,0.55,0.4,0.25,0.1,0.0,-0.1,-0.15,0.0,0.2,0.3,0.3,0.2,0.0,-0.25,-0.55], [-0.7]),
    ("k", -0.15, [1.3,1.5,1.25,1.1,1.0,0.85,0.7,0.55,0.35,0.15,0.0,-0.05,-0.05,0.1,0.25,0.4,0.35,0.25,0.1,-0.15,-0.4,-0.65], [-0.85]),
    ("k", -0.15, [1.1,0.8,0.6,0.5,0.45,0.4,0.3,0.2,0.1,0.0,-0.05,-0.05,0.0,0.1,0.2,0.3,0.25,0.15,0.05,-0.1,-0.3], [-0.45]),
    ("k", -0.12, [1.3,1.55,1.4,1.0,0.65,0.35,0.15,0.0,-0.1,-0.15,0.0,0.2,0.35,0.3,0.15,0.0,-0.3,-0.6], [-0.8]),
    ("k", -0.15, [1.5,1.3,1.2,1.35,1.2,1.0,0.8,0.6,0.35,0.15,0.0,-0.1,-0.15,0.0,0.2,0.35,0.35,0.2,0.05,-0.2,-0.5,-0.7], [-0.85,-0.95]),
    ("k", -0.15, [1.7,1.9,1.6,1.4,1.2,1.0,0.75,0.5,0.3,0.1,-0.05,-0.15,-0.15,0.0,0.25,0.4,0.35,0.2,0.1,-0.15,-0.45,-0.7], [-0.85]),
    ("k", -0.15, [0.8,1.0,1.2,1.1,1.0,0.85,0.65,0.45,0.25,0.1,-0.05,-0.15,-0.2,-0.05,0.15,0.3,0.3,0.2,0.05,-0.2,-0.45], [-0.6,-0.75]),
    ("k", -0.15, [1.2,1.35,1.5,1.25,1.05,0.9,0.7,0.5,0.3,0.1,0.0,-0.1,-0.1,0.05,0.2,0.35,0.35,0.2,0.1,-0.1,-0.35,-0.55,-0.6], [-0.7]),
    ("k", -0.15, [1.0,1.1,0.95,0.9,0.8,0.7,0.55,0.4,0.2,0.05,-0.05,-0.15,-0.15,0.0,0.15,0.3,0.3,0.2,0.05,-0.2,-0.5,-0.8], [-0.95]),
    ("k", -0.15, [1.4,1.6,1.7,1.5,1.3,1.05,0.8,0.55,0.35,0.15,0.0,-0.1,-0.1,0.05,0.25,0.4,0.4,0.25,0.1,-0.1,-0.4,-0.6], [-0.75]),
]
C2015 = [
    ("k", -0.15, [1.3,1.1,1.3,1.2,1.0,0.8,0.6,0.4,0.2,0.0,-0.2,-0.15,0.0,0.05,0.2,0.4,0.45,0.35,0.15,0.15,-0.3,-0.7], [-0.9,-1.1]),
    ("k", -0.14, [2.0,1.6,1.2,1.0,0.8,0.6,0.4,0.2,0.0,-0.15,-0.1,0.0,0.05,0.2,0.35,0.35,0.2,0.1,0.1,-0.4,-0.8], [-1.0,-1.25]),
    ("k", -0.15, [1.0,0.9,1.05,0.95,0.8,0.65,0.5,0.3,0.15,-0.05,-0.25,-0.2,0.0,0.0,0.15,0.35,0.35,0.25,0.1,0.1,-0.2,-0.5], [-0.7]),
    ("k", -0.15, [1.5,1.35,1.2,1.1,1.0,0.85,0.65,0.45,0.3,0.1,-0.1,-0.15,0.0,0.05,0.2,0.4,0.4,0.3,0.15,0.15,0.0,-0.2,-0.35], [-0.5]),
    ("k", -0.15, [0.8,0.8,0.9,0.8,0.7,0.6,0.5,0.35,0.15,0.0,-0.15,-0.15,0.0,0.0,0.1,0.3,0.3,0.2,0.1,0.05,-0.45,-0.8], [-1.0]),
    ("k", -0.15, [1.2,1.3,1.1,1.0,1.2,1.0,0.7,0.45,0.25,0.05,-0.15,-0.1,0.05,0.05,0.2,0.4,0.4,0.3,0.15,0.15,0.1,0.15,0.15], [0.1]),
    ("k", -0.15, [1.1,1.0,1.0,0.9,0.85,0.75,0.55,0.4,0.2,0.05,-0.2,-0.2,-0.05,0.0,0.15,0.3,0.35,0.25,0.15,0.05,-0.35,-0.6,-0.75], [-0.85]),
    ("k", -0.12, [1.6,1.3,1.0,0.75,0.5,0.3,0.1,-0.1,-0.1,0.0,0.05,0.2,0.35,0.35,0.25,0.1,0.1,-0.3,-0.6], [-0.85,-1.05]),
    ("k", -0.15, [1.2,1.15,1.1,1.2,0.9,0.7,0.5,0.35,0.2,0.05,-0.1,-0.1,0.0,0.05,0.2,0.35,0.4,0.3,0.2,0.1,-0.2,-0.45,-0.55], [-0.7]),
    ("k", -0.15, [1.4,1.2,1.1,1.3,1.05,0.85,0.6,0.4,0.2,0.05,-0.15,-0.15,0.0,0.05,0.15,0.35,0.4,0.3,0.1,0.0,-0.4,-0.75], [-0.95]),
    ("k", -0.15, [1.25,1.0,1.15,1.05,0.95,0.8,0.6,0.4,0.25,0.05,-0.1,-0.15,0.0,0.05,0.2,0.35,0.4,0.3,0.15,0.1,-0.25,-0.55], [-0.8]),
    ("k", -0.15, [0.9,1.1,1.2,1.0,0.9,0.75,0.55,0.35,0.2,0.0,-0.2,-0.2,-0.05,0.0,0.15,0.3,0.35,0.25,0.1,0.05,-0.35,-0.65], [-0.9,-1.1]),
    ("k", -0.15, [1.45,1.3,1.25,1.2,1.1,0.9,0.7,0.5,0.3,0.1,-0.1,-0.1,0.05,0.05,0.2,0.35,0.4,0.3,0.15,0.1,-0.1,-0.35], [-0.5]),
    ("k", -0.13, [1.3,1.2,1.1,0.9,0.7,0.45,0.25,0.05,-0.1,-0.15,0.0,0.05,0.2,0.4,0.45,0.35,0.15,0.1,-0.4,-0.75], [-1.0]),
    ("k", -0.15, [1.1,1.2,1.3,1.15,1.0,0.8,0.6,0.4,0.2,0.05,-0.15,-0.15,0.0,0.05,0.2,0.35,0.4,0.3,0.15,0.1,-0.15,-0.4,-0.5], [-0.6]),
]

PANELS = [C1996, C1997, C1998, C1999, C2000, C2001, C2002, C2003, C2004, C2005,
          C2006, C2007, C2008, C2009, C2010, C2011, C2012, C2013, C2014, C2015]

# ---------------- layout geometry (pixels) ----------------
W, H = 1237, 1333
COL_PX = [(40, 280), (360.5, 601), (681, 922), (1001, 1237)]
ROW_PX = [(43, 222), (312, 491.5), (581, 761), (850, 1030), (1118, 1298)]
GROUP_COLOR = {"k": "black", "r": "red"}
AXIS_COLOR = "#262626"
FONT = "Liberation Sans, Arial, Helvetica, sans-serif"

fig = go.Figure()
annotations = []

for i, (year, curves) in enumerate(zip(YEARS, PANELS)):
    r, c = divmod(i, 4)
    n = i + 1
    xa = "x" if n == 1 else f"x{n}"
    ya = "y" if n == 1 else f"y{n}"

    groups = {"k": ([], []), "r": ([], [])}
    bx, by = [], []
    for grp, x0, ys, ext in curves:
        xs = [round(x0 + STEP * j, 4) for j in range(len(ys))]
        gx, gy = groups[grp]
        gx.extend(xs + [None])
        gy.extend(list(ys) + [None])
        if ext:
            ex = [xs[-1]] + [round(xs[-1] + EXT_STEP * (j + 1), 4) for j in range(len(ext))]
            bx.extend(ex + [None])
            by.extend([ys[-1]] + list(ext) + [None])

    order = ["r", "k"] if year == 2011 else ["k", "r"]
    for grp in order:
        gx, gy = groups[grp]
        if gx:
            fig.add_trace(go.Scatter(
                x=gx, y=gy, mode="lines", xaxis=xa, yaxis=ya,
                line=dict(color=GROUP_COLOR[grp], width=1.1, shape="spline", smoothing=0.5),
                hoverinfo="skip", showlegend=False, connectgaps=False))
    if bx:
        fig.add_trace(go.Scatter(
            x=bx, y=by, mode="lines", xaxis=xa, yaxis=ya,
            line=dict(color="blue", width=1.6, dash="1.6px,4.5px"),
            hoverinfo="skip", showlegend=False, connectgaps=False))

    cx0, cx1 = COL_PX[c]
    ry0, ry1 = ROW_PX[r]
    last_col = c == 3
    xmax = -0.15 + 0.3 * (cx1 - cx0) / 240.0 if last_col else 0.15

    fig.layout[f"xaxis{n if n > 1 else ''}"] = dict(
        domain=[cx0 / W, cx1 / W], range=[-0.15, xmax], anchor=ya, automargin=False,
        tickvals=X_TICKS, ticktext=X_TICK_TEXT, ticks="inside", ticklen=4,
        tickcolor=AXIS_COLOR, showline=True, linecolor=AXIS_COLOR, linewidth=1,
        mirror="ticks", showgrid=False, zeroline=False, ticklabelstandoff=7,
        tickfont=dict(family=FONT, size=20, color=AXIS_COLOR))
    fig.layout[f"yaxis{n if n > 1 else ''}"] = dict(
        domain=[1 - ry1 / H, 1 - ry0 / H], range=[-1.5, 2], anchor=xa, automargin=False,
        tickvals=Y_TICKS, ticktext=Y_TICK_TEXT, ticks="inside", ticklen=4,
        tickcolor=AXIS_COLOR, showline=True, linecolor=AXIS_COLOR, linewidth=1,
        mirror=False if last_col else "ticks", showgrid=False, zeroline=False,
        ticklabelstandoff=7,
        tickfont=dict(family=FONT, size=20, color=AXIS_COLOR))

    annotations.append(dict(
        text=f"<b>{year}</b>", x=(cx0 + (cx0 + 240)) / 2 / W, y=1 - (ry0 - 21) / H,
        xref="paper", yref="paper", xanchor="center", yanchor="middle",
        showarrow=False, font=dict(family=FONT, size=22, color="black")))

fig.update_layout(
    width=W, height=H, margin=dict(l=0, r=0, t=0, b=0, pad=0),
    paper_bgcolor="white", plot_bgcolor="white",
    annotations=annotations, showlegend=False)

fig.write_html("out.html")
